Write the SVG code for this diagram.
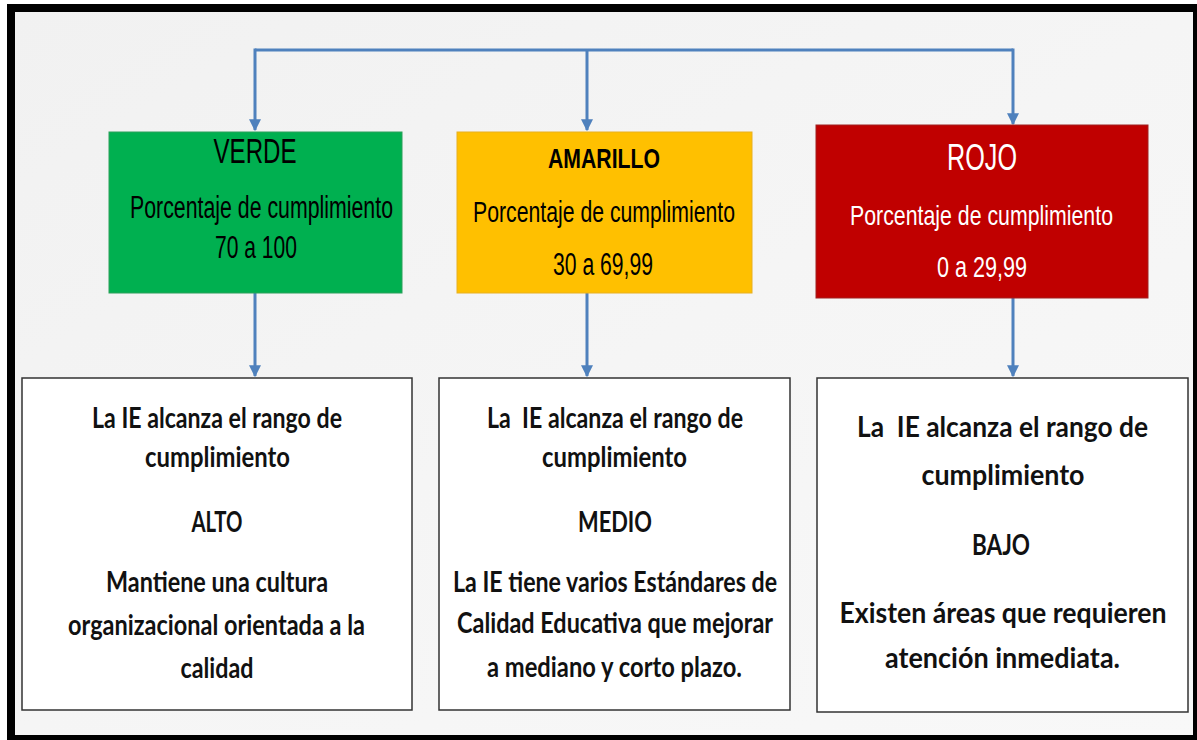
<svg xmlns="http://www.w3.org/2000/svg" width="1197" height="740" viewBox="0 0 1197 740">
  <defs>
    <linearGradient id="bg" x1="0" y1="0" x2="1" y2="1">
      <stop offset="0" stop-color="#f1f1f1"/>
      <stop offset="0.5" stop-color="#f5f5f5"/>
      <stop offset="1" stop-color="#f8f8f8"/>
    </linearGradient>
    <marker id="arr" viewBox="0 0 10 10" refX="9" refY="5" markerWidth="4" markerHeight="4" orient="auto" markerUnits="strokeWidth">
      <path d="M0,0 L10,5 L0,10 z" fill="#4f81bd"/>
    </marker>
    <style>
      .conn { fill: none; stroke: #4f81bd; stroke-width: 3; }
      .top { font-family: "Liberation Sans", Arial, sans-serif; text-anchor: middle; }
      .bot { font-family: Lato, "Open Sans", sans-serif; font-weight: bold; text-anchor: middle; fill: #111; }
      .wbox { fill: #ffffff; stroke: #333333; stroke-width: 1.5; }
    </style>
  </defs>
  <rect x="0" y="0" width="1197" height="740" fill="#ffffff"/>
  <rect x="7" y="4" width="1190" height="736" fill="#000000"/>
  <rect x="15" y="12" width="1178" height="723" fill="url(#bg)"/>

  <g id="connectors">
    <path class="conn" d="M255,50 L1013,50"/>
    <path class="conn" d="M255,48.5 L255,130" marker-end="url(#arr)"/>
    <path class="conn" d="M587,50 L587,130" marker-end="url(#arr)"/>
    <path class="conn" d="M1013,48.5 L1013,124" marker-end="url(#arr)"/>
    <path class="conn" d="M255,293 L255,376" marker-end="url(#arr)"/>
    <path class="conn" d="M587,293 L587,376" marker-end="url(#arr)"/>
    <path class="conn" d="M1013,298 L1013,376" marker-end="url(#arr)"/>
  </g>

  <g id="verde">
    <rect x="109" y="132" width="293" height="161" fill="#00b050" stroke="#2aa05a" stroke-width="1"/>
    <text class="top" x="255" y="163" font-size="35" fill="#000" textLength="83" lengthAdjust="spacingAndGlyphs">VERDE</text>
    <text class="top" x="261.5" y="218" font-size="31" fill="#000" textLength="263" lengthAdjust="spacingAndGlyphs">Porcentaje de cumplimiento</text>
    <text class="top" x="256" y="258" font-size="32" fill="#000" textLength="82" lengthAdjust="spacingAndGlyphs">70 a 100</text>
  </g>

  <g id="amarillo">
    <rect x="457" y="132" width="295" height="161" fill="#ffc000" stroke="#e8b020" stroke-width="1"/>
    <text class="top" x="604" y="168" font-size="28" font-weight="bold" fill="#000" textLength="112" lengthAdjust="spacingAndGlyphs">AMARILLO</text>
    <text class="top" x="604" y="222" font-size="30" fill="#000" textLength="262" lengthAdjust="spacingAndGlyphs">Porcentaje de cumplimiento</text>
    <text class="top" x="603" y="275" font-size="31" fill="#000" textLength="100" lengthAdjust="spacingAndGlyphs">30 a 69,99</text>
  </g>

  <g id="rojo">
    <rect x="816" y="125" width="332" height="173" fill="#c00000" stroke="#a02020" stroke-width="1"/>
    <text class="top" x="982" y="170" font-size="37" fill="#fff" textLength="70" lengthAdjust="spacingAndGlyphs">ROJO</text>
    <text class="top" x="981.5" y="225" font-size="28" fill="#fff" textLength="263" lengthAdjust="spacingAndGlyphs">Porcentaje de cumplimiento</text>
    <text class="top" x="982" y="277" font-size="29" fill="#fff" textLength="90" lengthAdjust="spacingAndGlyphs">0 a 29,99</text>
  </g>

  <g id="alto">
    <rect class="wbox" x="22" y="378" width="390" height="332"/>
    <text class="bot" x="217" y="428" font-size="29" textLength="250" lengthAdjust="spacingAndGlyphs">La IE alcanza el rango de</text>
    <text class="bot" x="217.5" y="467" font-size="29" textLength="145" lengthAdjust="spacingAndGlyphs">cumplimiento</text>
    <text class="bot" x="217" y="532" font-size="29" textLength="51" lengthAdjust="spacingAndGlyphs">ALTO</text>
    <text class="bot" x="217" y="592" font-size="29" textLength="222" lengthAdjust="spacingAndGlyphs">Mantiene una cultura</text>
    <text class="bot" x="216.5" y="635" font-size="29" textLength="297" lengthAdjust="spacingAndGlyphs">organizacional orientada a la</text>
    <text class="bot" x="217" y="678" font-size="29" textLength="73" lengthAdjust="spacingAndGlyphs">calidad</text>
  </g>

  <g id="medio">
    <rect class="wbox" x="439" y="378" width="351" height="332"/>
    <text class="bot" x="615" y="428" font-size="29" textLength="256" lengthAdjust="spacingAndGlyphs" xml:space="preserve">La  IE alcanza el rango de</text>
    <text class="bot" x="614.5" y="467" font-size="29" textLength="145" lengthAdjust="spacingAndGlyphs">cumplimiento</text>
    <text class="bot" x="615" y="532" font-size="29" textLength="74" lengthAdjust="spacingAndGlyphs">MEDIO</text>
    <text class="bot" x="615" y="592" font-size="29" textLength="324" lengthAdjust="spacingAndGlyphs">La IE tiene varios Estándares de</text>
    <text class="bot" x="615" y="633" font-size="29" textLength="316" lengthAdjust="spacingAndGlyphs">Calidad Educativa que mejorar</text>
    <text class="bot" x="614.5" y="677" font-size="29" textLength="255" lengthAdjust="spacingAndGlyphs">a mediano y corto plazo.</text>
  </g>

  <g id="bajo">
    <rect class="wbox" x="817" y="378" width="371" height="334"/>
    <text class="bot" x="1002.5" y="437" font-size="29" textLength="291" lengthAdjust="spacingAndGlyphs" xml:space="preserve">La  IE alcanza el rango de</text>
    <text class="bot" x="1003" y="485" font-size="29" textLength="163" lengthAdjust="spacingAndGlyphs">cumplimiento</text>
    <text class="bot" x="1001" y="555" font-size="29" textLength="58" lengthAdjust="spacingAndGlyphs">BAJO</text>
    <text class="bot" x="1003" y="623" font-size="29" textLength="327" lengthAdjust="spacingAndGlyphs">Existen áreas que requieren</text>
    <text class="bot" x="1002.5" y="668" font-size="29" textLength="235" lengthAdjust="spacingAndGlyphs">atención inmediata.</text>
  </g>
</svg>
